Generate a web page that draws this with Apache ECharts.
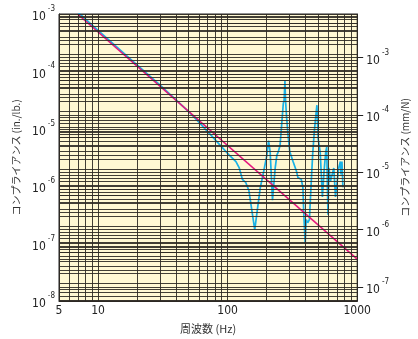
<!DOCTYPE html>
<html>
<head>
<meta charset="utf-8">
<script src="https://cdn.jsdelivr.net/npm/echarts@6/dist/echarts.min.js"></script>
<style>
html, body { margin: 0; padding: 0; background: #fff; }
#chart { width: 418px; height: 339px; }
</style>
</head>
<body>
<div id="chart"></div>
<script>
// measured compliance, frequency (Hz) vs compliance (in./lb.)
const measFreq = [7.0, 10, 20, 30, 40, 50, 60, 75, 97.6, 103, 116, 123, 130, 138, 146, 155, 162, 169, 179, 190,
  201, 207, 213, 222, 233, 240, 246, 254, 262, 269, 273, 277, 280, 285, 293, 302, 320, 340, 349, 370,
  381, 387, 397, 404, 415, 428, 440, 453, 466, 480, 489, 500, 518, 539, 555, 572, 582, 595, 605, 623,
  641, 660, 680, 699, 720, 742, 750, 763, 776];
const measComp = [1.07e-3, 5.2e-4, 1.3e-4, 5.8e-5, 3.2e-5, 2.0e-5, 1.3e-5, 7.6e-6, 3.96e-6, 3.48e-6, 2.69e-6, 2.08e-6, 1.32e-6, 1.16e-6, 8.4e-7, 3.4e-7, 1.74e-7, 3.64e-7, 9.6e-7, 1.82e-6,
  3.48e-6, 6.23e-6, 3.96e-6, 5.7e-7, 2.08e-6, 3.48e-6, 3.96e-6, 5.13e-6, 1.27e-5, 2.75e-5, 3.14e-5, 6.8e-5, 3.14e-5, 1.64e-5, 7.57e-6, 3.96e-6, 2.69e-6, 1.82e-6, 1.41e-6, 1.32e-6,
  9.6e-7, 3.4e-7, 1.0e-7, 2.62e-7, 2.31e-7, 2.62e-7, 9.6e-7, 3.48e-6, 8.6e-6, 1.75e-5, 2.58e-5, 6.65e-6, 3.96e-6, 6.5e-7, 1.82e-6, 3.96e-6, 4.81e-6, 3.18e-7, 2.08e-6, 1.24e-6,
  1.6e-6, 2.08e-6, 6.5e-7, 6.1e-7, 2.08e-6, 2.69e-6, 1.6e-6, 2.69e-6, 9.6e-7];
// rigid mass line
const massFreq = [6.95, 1000];
const massComp = [1.0e-3, 5.36e-8];

const xLabels = [5, 10, 100, 1000];
const leftTicks = [1e-8, 1e-7, 1e-6, 1e-5, 1e-4, 1e-3];
const rightTicks = [1e-7, 1e-6, 1e-5, 1e-4, 1e-3];
const IN_LB_TO_MM_N = 5.71;

const X_MIN = 5, X_MAX = 1000;
const Y_MIN = 1e-8, Y_MAX = 1e-3;

const FONT = '"Liberation Sans Narrow", "DejaVu Sans Condensed", sans-serif';
const CJK = '"Noto Sans CJK JP", sans-serif';
const GRID_COLOR = '#2e2924';

// 1..9 x 10^n gridlines inside [lo, hi]
function logGrid(lo, hi) {
  let out = [];
  for (let e = -9; e <= 3; e++) {
    for (let m = 1; m <= 9; m++) {
      let v = m * Math.pow(10, e);
      if (v >= lo * 0.999 && v <= hi * 1.001) out.push(v);
    }
  }
  return out;
}

function powLabel(v) {
  let e = Math.round(Math.log10(v));
  return '{b|10}{s|' + e + '}';
}
const richLabel = {
  b: { fontSize: 12, fontFamily: FONT, color: '#222', lineHeight: 18, verticalAlign: 'bottom' },
  s: { fontSize: 8, fontFamily: FONT, color: '#222', lineHeight: 18, verticalAlign: 'top', padding: [0, 0, 0, 2] }
};

let myChart = echarts.init(document.getElementById('chart'));

let gridStyle = { color: GRID_COLOR, width: 1, type: 'solid', opacity: 0.9 };

function gridMarkLine(lines) {
  return {
    silent: true,
    symbol: ['none', 'none'],
    label: { show: false },
    lineStyle: gridStyle,
    emphasis: { disabled: true },
    animation: false,
    data: lines
  };
}

let vLines = logGrid(X_MIN, X_MAX).map(f => [{ coord: [f, Y_MIN] }, { coord: [f, Y_MAX] }]);
let hLinesLeft = logGrid(Y_MIN, Y_MAX).map(v => [{ coord: [X_MIN, v] }, { coord: [X_MAX, v] }]);
let hLinesRight = logGrid(Y_MIN * IN_LB_TO_MM_N, Y_MAX * IN_LB_TO_MM_N)
  .map(v => [{ coord: [X_MIN, v] }, { coord: [X_MAX, v] }]);

let option = {
  animation: false,
  grid: {
    left: 59, top: 14, right: 54, bottom: 28,
    show: true,
    backgroundColor: '#fff8d3',
    borderColor: '#222',
    borderWidth: 1
  },
  xAxis: {
    type: 'log',
    logBase: 10,
    min: X_MIN,
    max: X_MAX,
    name: '周波数 (Hz)',
    nameLocation: 'middle',
    nameGap: 22,
    nameTextStyle: { fontFamily: CJK, fontSize: 11, color: '#333' },
    axisLine: { show: true, lineStyle: { color: '#222' } },
    axisTick: { show: false },
    splitLine: { show: false },
    axisLabel: {
      customValues: xLabels,
      margin: 4,
      fontFamily: FONT,
      fontSize: 12,
      color: '#222',
      formatter: v => String(v)
    }
  },
  yAxis: [
    {
      type: 'log',
      logBase: 10,
      min: Y_MIN,
      max: Y_MAX,
      name: 'コンプライアンス (in./lb.)',
      nameLocation: 'middle',
      nameRotate: 90,
      nameGap: 37,
      nameTextStyle: { fontFamily: CJK, fontSize: 10, color: '#333' },
      axisLine: { show: true, lineStyle: { color: '#222' } },
      axisTick: { show: false },
      splitLine: { show: false },
      axisLabel: {
        customValues: leftTicks,
        margin: 4,
        formatter: powLabel,
        rich: richLabel
      }
    },
    {
      type: 'log',
      logBase: 10,
      position: 'right',
      min: Y_MIN * IN_LB_TO_MM_N,
      max: Y_MAX * IN_LB_TO_MM_N,
      name: 'コンプライアンス (mm/N)',
      nameLocation: 'middle',
      nameRotate: 90,
      nameGap: 38,
      nameTextStyle: { fontFamily: CJK, fontSize: 10, color: '#333' },
      axisLine: { show: true, lineStyle: { color: '#222' } },
      axisTick: { show: true, customValues: rightTicks, length: 6, inside: false, lineStyle: { color: '#222', width: 1 } },
      splitLine: { show: false },
      axisLabel: {
        customValues: rightTicks,
        margin: 9,
        formatter: powLabel,
        rich: richLabel
      }
    }
  ],
  series: [
    {
      name: 'grid-left',
      type: 'line',
      data: [],
      z: 1,
      silent: true,
      markLine: gridMarkLine(vLines.concat(hLinesLeft))
    },
    {
      name: 'grid-right',
      type: 'line',
      yAxisIndex: 1,
      data: [],
      z: 1,
      silent: true,
      markLine: gridMarkLine(hLinesRight)
    },
    {
      name: 'measured',
      type: 'line',
      z: 3,
      showSymbol: false,
      clip: true,
      lineStyle: { color: '#19b2e6', width: 1.7 },
      data: measFreq.map((f, i) => [f, measComp[i]])
    },
    {
      name: 'mass',
      type: 'line',
      z: 4,
      showSymbol: false,
      clip: true,
      lineStyle: { color: '#e5177e', width: 1.6 },
      data: massFreq.map((f, i) => [f, massComp[i]])
    }
  ]
};
myChart.setOption(option);
window.addEventListener('resize', () => myChart.resize());
</script>
</body>
</html>
